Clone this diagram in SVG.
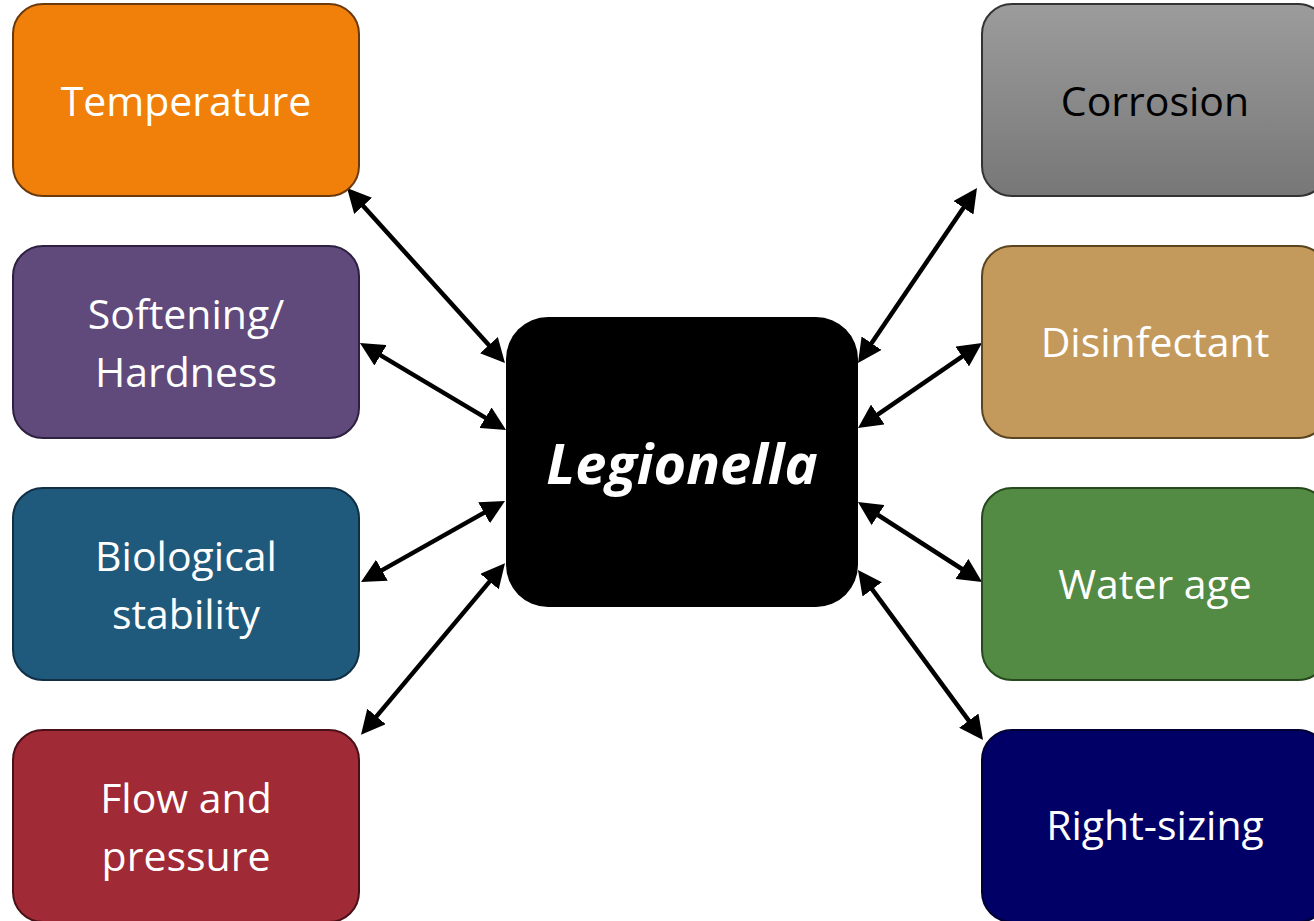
<svg xmlns="http://www.w3.org/2000/svg" width="1314" height="921" viewBox="0 0 1314 921">
<style>
.box{stroke-width:2}
.lbl{font-family:"Open Sans","Liberation Sans",sans-serif;font-size:41px;text-anchor:middle;fill:#ffffff}
.dark{fill:#000000}
.conn{stroke:#000;stroke-width:4.5;fill:none;marker-start:url(#ah);marker-end:url(#ah)}
</style>
<defs>
<marker id="ah" markerUnits="userSpaceOnUse" viewBox="0 0 24 24" markerWidth="24" markerHeight="24" refX="13" refY="12" orient="auto-start-reverse">
<path d="M0,0 L24,12 L0,24 z" fill="#000"/>
</marker>
<linearGradient id="gray" x1="0" y1="0" x2="0" y2="1">
<stop offset="0" stop-color="#9c9c9c"/>
<stop offset="1" stop-color="#777777"/>
</linearGradient>
</defs>
<rect width="1314" height="921" fill="#ffffff"/>
<g id="connectors">
<line class="conn" x1="354.4" y1="196.2" x2="497.6" y2="354.8"/>
<line class="conn" x1="369.4" y1="348.6" x2="496.6" y2="424.4"/>
<line class="conn" x1="370.6" y1="576.6" x2="495.4" y2="506.4"/>
<line class="conn" x1="368.1" y1="726.4" x2="497.9" y2="571.6"/>
<line class="conn" x1="864.2" y1="353.9" x2="970.8" y2="197.1"/>
<line class="conn" x1="867.1" y1="421.8" x2="972.9" y2="349.2"/>
<line class="conn" x1="867.2" y1="508.0" x2="972.8" y2="576.0"/>
<line class="conn" x1="864.5" y1="578.9" x2="976.5" y2="731.1"/>
</g>
<g id="temperature">
<rect class="box" x="13" y="4" width="346" height="192" rx="30" fill="#f0800a" stroke="#6b3a0c"/>
<text class="lbl" x="186" y="116">Temperature</text>
</g>
<g id="softening">
<rect class="box" x="13" y="246" width="346" height="192" rx="30" fill="#604a7b" stroke="#2e2040"/>
<text class="lbl" x="186" y="329">Softening/</text>
<text class="lbl" x="186" y="387">Hardness</text>
</g>
<g id="biological">
<rect class="box" x="13" y="488" width="346" height="192" rx="30" fill="#1f5a7c" stroke="#102f44"/>
<text class="lbl" x="186" y="571">Biological</text>
<text class="lbl" x="186" y="629">stability</text>
</g>
<g id="flow">
<rect class="box" x="13" y="730" width="346" height="192" rx="30" fill="#a02a35" stroke="#4a1018"/>
<text class="lbl" x="186" y="813">Flow and</text>
<text class="lbl" x="186" y="871">pressure</text>
</g>
<g id="legionella">
<rect x="506" y="317" width="352" height="290" rx="42" fill="#000000"/>
<text x="682" y="484" style="font-family:'Open Sans','Liberation Sans',sans-serif;font-size:56px;font-weight:bold;font-style:italic;text-anchor:middle;fill:#ffffff">Legionella</text>
</g>
<g id="corrosion">
<rect class="box" x="982" y="4" width="346" height="192" rx="30" fill="url(#gray)" stroke="#333333"/>
<text class="lbl dark" x="1155" y="116">Corrosion</text>
</g>
<g id="disinfectant">
<rect class="box" x="982" y="246" width="346" height="192" rx="30" fill="#c39a5c" stroke="#5a4520"/>
<text class="lbl" x="1155" y="357">Disinfectant</text>
</g>
<g id="waterage">
<rect class="box" x="982" y="488" width="346" height="192" rx="30" fill="#538a44" stroke="#264a1e"/>
<text class="lbl" x="1155" y="599">Water age</text>
</g>
<g id="rightsizing">
<rect class="box" x="982" y="730" width="346" height="192" rx="30" fill="#000066" stroke="#000033"/>
<text class="lbl" x="1155" y="840">Right-sizing</text>
</g>
</svg>
